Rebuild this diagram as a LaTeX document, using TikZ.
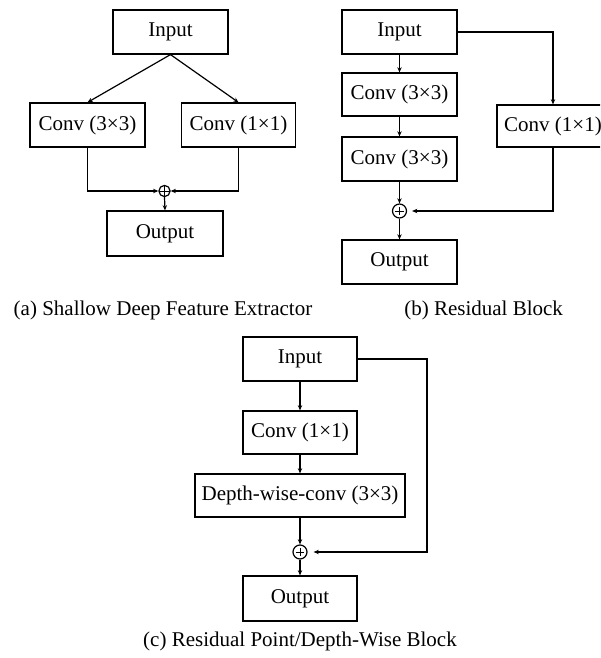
\documentclass[tikz,border=0pt]{standalone}
\usepackage{fontspec}
\setmainfont{Liberation Serif}
\usetikzlibrary{arrows.meta}

\begin{document}
\begin{tikzpicture}[x=0.5pt,y=-0.5pt,>={Stealth[length=2.6pt,width=2.2pt]},
    font=\fontsize{10.5}{12}\selectfont, line width=0.6pt,
    box/.style={draw,inner sep=0pt,minimum width=57.5pt,minimum height=22pt},
    sumfull/.style={draw,circle,inner sep=0pt,minimum size=5.6pt,
      path picture={\draw[line width=0.5pt] (path picture bounding box.north) -- (path picture bounding box.south)
        (path picture bounding box.west) -- (path picture bounding box.east);}},
    sumnode/.style={draw,circle,inner sep=0pt,minimum size=7pt,
      path picture={\draw[line width=0.5pt] ([xshift=-2.1pt]path picture bounding box.center) -- ([xshift=2.1pt]path picture bounding box.center)
        ([yshift=-2.1pt]path picture bounding box.center) -- ([yshift=2.1pt]path picture bounding box.center);}},
    caption/.style={anchor=base}]
  \useasboundingbox (0,0) rectangle (600,658);
  \clip (0,0) rectangle (600,658);

  % (a) shallow deep feature extractor
  \node[box] (ina) at (170.5,32) {Input};
  \node[box] (c3a) at (87.5,125) {Conv (3×3)};
  \node[box,minimum width=57pt] (c1a) at (238.5,125) {Conv (1×1)};
  \node[sumfull] (suma) at (164.5,191) {};
  \node[box,minimum width=58pt,minimum height=22.5pt] (outa) at (165,233.5) {Output};
  \draw[->] (ina.south) -- (c3a.north);
  \draw[->] (ina.south) -- (c1a.north);
  \draw[->] (c3a.south) |- (suma.west);
  \draw[->] (c1a.south) |- (suma.east);
  \draw[->] (suma.south) -- (outa.north);
  \node[caption] (capa) at (163,315) {(a) Shallow Deep Feature Extractor};

  % (b) residual block
  \node[box] (inb) at (399.5,32) {Input};
  \node[box,minimum height=21.5pt] (c3b1) at (399.5,94.5) {Conv (3×3)};
  \node[box] (c3b2) at (399.5,159) {Conv (3×3)};
  \node[box,minimum width=56pt,minimum height=21pt] (c1b) at (553,126) {Conv (1×1)};
  \node[sumnode] (sumb) at (399.5,211) {};
  \node[box] (outb) at (399.5,262) {Output};
  \draw[->] (inb.south) -- (c3b1.north);
  \draw[->] (c3b1.south) -- (c3b2.north);
  \draw[->] (c3b2.south) -- (sumb.north);
  \draw[->] (sumb.south) -- (outb.north);
  \draw[->] (inb.east) -| (c1b.north);
  \draw[->,shorten >=2.5pt] (c1b.south) |- (sumb.east);
  \node[caption,anchor=base west] (capb) at (397,315) {(b) Residual Block};

  % (c) residual point/depth-wise block
  \node[box,minimum width=57pt] (inc) at (300,359) {Input};
  \node[box,minimum width=57pt,minimum height=21.5pt] (c1c) at (300,432.5) {Conv (1×1)};
  \node[box,minimum width=105pt,minimum height=21.5pt] (dwc) at (300,495.5) {Depth-wise-conv (3×3)};
  \node[sumnode] (sumc) at (300,552) {};
  \node[box,minimum width=57pt,minimum height=22.5pt] (outc) at (300,598.5) {Output};
  \coordinate (loopc) at (427,552);
  \draw[->] (inc.south) -- (c1c.north);
  \draw[->] (c1c.south) -- (dwc.north);
  \draw[->] (dwc.south) -- (sumc.north);
  \draw[->] (sumc.south) -- (outc.north);
  \draw[->,shorten >=3pt] (inc.east) -| (loopc) -- (sumc.east);
  \node[caption] (capc) at (300,646) {(c) Residual Point/Depth-Wise Block};
\end{tikzpicture}
\end{document}
